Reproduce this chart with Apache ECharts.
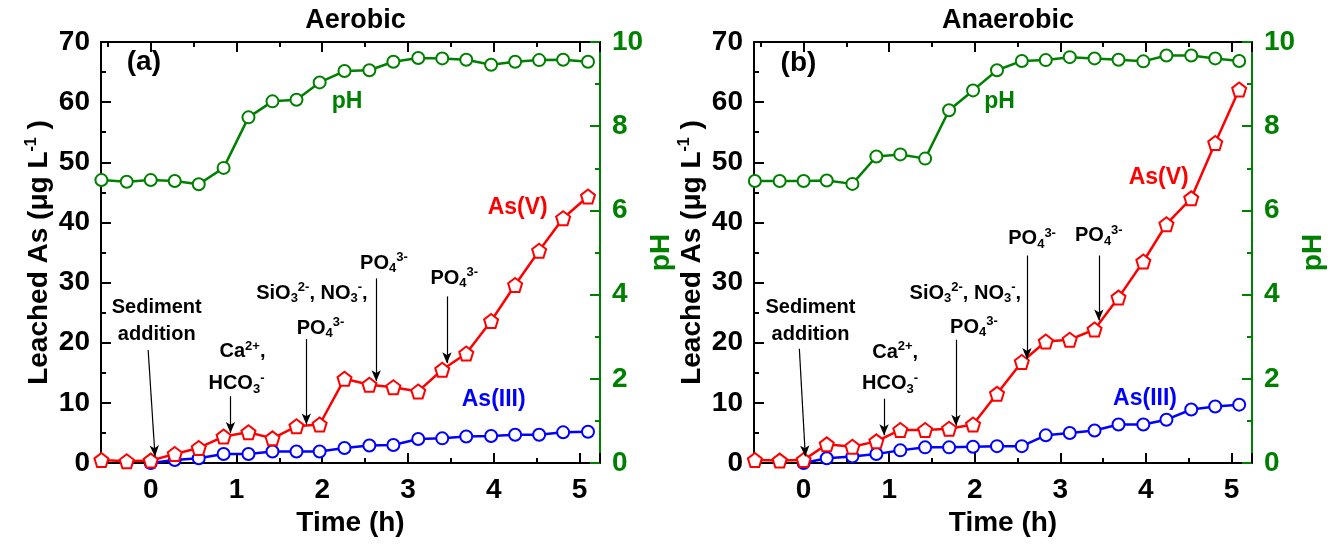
<!DOCTYPE html>
<html>
<head>
<meta charset="utf-8">
<script src="https://cdn.jsdelivr.net/npm/echarts@6/dist/echarts.min.js"></script>
<style>
  html, body { margin: 0; padding: 0; background: #fff; }
  #chart { width: 1333px; height: 544px; }
</style>
</head>
<body>
<div id="chart"></div>
<script>
// sampling times (h)
const timeA = [-0.575, -0.28, 0, 0.28, 0.56, 0.85, 1.14, 1.42, 1.70, 1.97, 2.26, 2.55, 2.83, 3.12, 3.40, 3.68, 3.97, 4.25, 4.53, 4.81, 5.10]
const timeB = [-0.57, -0.28, 0, 0.27, 0.57, 0.85, 1.13, 1.42, 1.70, 1.98, 2.26, 2.55, 2.83, 3.11, 3.40, 3.68, 3.97, 4.24, 4.53, 4.81, 5.09]

// (a) Aerobic
const asVA = [0.5, 0.3, 0.4, 1.5, 2.5, 4.4, 5.1, 4.1, 6.1, 6.4, 14.0, 13.0, 12.6, 11.9, 15.5, 18.2, 23.6, 29.6, 35.3, 40.7, 44.3]
const asIIIA = [0, 0.5, 0.8, 1.5, 1.5, 1.9, 1.9, 1.9, 2.5, 2.9, 3.0, 4.0, 4.1, 4.4, 4.5, 4.7, 4.7, 5.1, 5.2]   // from t = 0
const pHA = [6.72, 6.68, 6.72, 6.70, 6.62, 7.01, 8.21, 8.59, 8.63, 9.04, 9.31, 9.33, 9.53, 9.62, 9.61, 9.58, 9.46, 9.53, 9.57, 9.58, 9.53]

// (b) Anaerobic
const asVB = [0.5, 0.4, 0.5, 3.1, 2.7, 3.6, 5.5, 5.5, 5.7, 6.4, 11.5, 16.8, 20.2, 20.5, 22.2, 27.5, 33.5, 39.7, 44.0, 53.2, 62.1]
const asIIIB = [0, 0.8, 1.1, 1.5, 2.1, 2.6, 2.6, 2.7, 2.8, 2.8, 4.6, 5.0, 5.4, 6.4, 6.4, 7.2, 8.9, 9.4, 9.7]
const pHB = [6.70, 6.70, 6.70, 6.71, 6.63, 7.28, 7.33, 7.23, 8.38, 8.85, 9.33, 9.55, 9.57, 9.64, 9.61, 9.58, 9.54, 9.68, 9.68, 9.61, 9.55]

const titles = ['Aerobic', 'Anaerobic']

// annotation texts [t, As, text] and arrows [t1, As1, t2, As2]
const notesA = [
  [0.07, 25.8, 'Sediment'],
  [0.07, 21.3, 'addition'],
  [1.07, 18.5, 'Ca{sup|2+},'],
  [1.00, 13.2, 'HCO{sub|3}{sup|-}'],
  [1.88, 28.2, 'SiO{sub|3}{sup|2-}, NO{sub|3}{sup|-},'],
  [1.98, 22.4, 'PO{sub|4}{sup|3-}'],
  [2.72, 33.2, 'PO{sub|4}{sup|3-}'],
  [3.54, 30.7, 'PO{sub|4}{sup|3-}']
]
const arrowsA = [
  [-0.03, 18.8, 0.05, 1.1],
  [0.93, 11.1, 0.93, 5.0],
  [1.815, 20.6, 1.815, 6.4],
  [2.63, 30.7, 2.63, 13.6],
  [3.455, 27.7, 3.455, 16.6]
]
const notesB = [
  [0.08, 25.9, 'Sediment'],
  [0.08, 21.4, 'addition'],
  [1.07, 18.4, 'Ca{sup|2+},'],
  [1.01, 13.2, 'HCO{sub|3}{sup|-}'],
  [1.89, 28.2, 'SiO{sub|3}{sup|2-}, NO{sub|3}{sup|-},'],
  [1.99, 22.6, 'PO{sub|4}{sup|3-}'],
  [2.67, 37.3, 'PO{sub|4}{sup|3-}'],
  [3.45, 37.8, 'PO{sub|4}{sup|3-}']
]
const arrowsB = [
  [-0.05, 19.0, 0.02, 1.1],
  [0.94, 10.7, 0.94, 4.6],
  [1.78, 20.5, 1.78, 6.2],
  [2.61, 34.5, 2.61, 17.3],
  [3.45, 34.5, 3.45, 23.7]
]
// series tags: As(V), As(III), pH, panel letter
const tagsA = [[4.28, 42.4, 'As(V)'], [4.00, 10.5, 'As(III)'], [2.29, 60.1, 'pH'], [-0.08, 66.7, '(a)']]
const tagsB = [[4.15, 47.5, 'As(V)'], [3.99, 10.7, 'As(III)'], [2.29, 60.0, 'pH'], [-0.06, 66.4, '(b)']]

const FONT = 'Liberation Sans, Arial, sans-serif'
const RED = '#ff0000', BLUE = '#0000ff', GREEN = '#008000'
const tagColors = [RED, BLUE, GREEN, '#000']
const tagSizes = [23, 23, 23, 28]
const AXIS_FS = 28

const subSup = {
  sub: { fontSize: 13, fontWeight: 'bold', fontFamily: FONT, color: '#000', padding: [11, 0, 0, 0] },
  sup: { fontSize: 13, fontWeight: 'bold', fontFamily: FONT, color: '#000', padding: [0, 0, 11, 0] }
}

const pentagon = 'path://M0,-1L0.951,-0.309L0.588,0.809L-0.588,0.809L-0.951,-0.309Z'

const grids = [
  { left: 101, top: 42, width: 499, height: 421 },
  { left: 754, top: 42, width: 498, height: 421 }
]

const tickStyle = (color) => ({ color: color, width: 2 })
const labelStyle = (color) => ({ color: color, fontSize: AXIS_FS, fontWeight: 'bold', fontFamily: FONT })

const xAxes = []
const yAxes = []
const series = []

function addPanel (i, time, asV, asIII, pH, notes, arrows, tags) {
  const xBase = {
    type: 'value',
    gridIndex: i,
    min: -0.58,
    max: 5.24,
    splitLine: { show: false },
    axisLine: { show: true, onZero: false, lineStyle: tickStyle('#000') },
    axisTick: { inside: true, length: 10, lineStyle: tickStyle('#000') },
    minorTick: { show: true, splitNumber: 2, length: 5, lineStyle: tickStyle('#000') }
  }
  xAxes.push(Object.assign({}, xBase, {
    position: 'bottom',
    axisLabel: Object.assign(labelStyle('#000'), { margin: 13, showMinLabel: false, showMaxLabel: false }),
    name: 'Time (h)',
    nameLocation: 'middle',
    nameGap: 44,
    nameTextStyle: labelStyle('#000')
  }))
  xAxes.push(Object.assign({}, xBase, { position: 'top', axisLabel: { show: false } }))

  yAxes.push({
    type: 'value',
    gridIndex: i,
    position: 'left',
    min: 0,
    max: 70,
    interval: 10,
    splitLine: { show: false },
    axisLine: { show: true, onZero: false, lineStyle: tickStyle('#000') },
    axisTick: { inside: true, length: 10, lineStyle: tickStyle('#000') },
    minorTick: { show: true, splitNumber: 2, length: 5, lineStyle: tickStyle('#000') },
    axisLabel: Object.assign(labelStyle('#000'), { margin: 11 }),
    name: '{a|Leached As (μg L}{s|-1}{a| )}',
    nameLocation: 'middle',
    nameGap: 47,
    nameTextStyle: {
      rich: {
        a: labelStyle('#000'),
        s: { fontSize: 16, fontWeight: 'bold', fontFamily: FONT, color: '#000', padding: [0, 0, 14, 0] }
      }
    }
  })
  yAxes.push({
    type: 'value',
    gridIndex: i,
    position: 'right',
    min: 0,
    max: 10,
    interval: 2,
    splitLine: { show: false },
    axisLine: { show: true, onZero: false, lineStyle: tickStyle(GREEN) },
    axisTick: { inside: true, length: 10, lineStyle: tickStyle(GREEN) },
    minorTick: { show: true, splitNumber: 2, length: 5, lineStyle: tickStyle(GREEN) },
    axisLabel: Object.assign(labelStyle(GREEN), { margin: 12 }),
    name: 'pH',
    nameLocation: 'middle',
    nameGap: 40,
    nameTextStyle: labelStyle(GREEN)
  })

  const xi = 2 * i
  series.push({
    name: 'pH',
    type: 'line',
    xAxisIndex: xi,
    yAxisIndex: 2 * i + 1,
    data: time.map((t, k) => [t, pH[k]]),
    symbol: 'circle',
    symbolSize: 12,
    showAllSymbol: true,
    lineStyle: { color: GREEN, width: 2.5 },
    itemStyle: { color: '#fff', borderColor: GREEN, borderWidth: 2 },
    z: 2
  })
  series.push({
    name: 'As(III)',
    type: 'line',
    xAxisIndex: xi,
    yAxisIndex: 2 * i,
    data: time.slice(2).map((t, k) => [t, asIII[k]]),
    symbol: 'circle',
    symbolSize: 12,
    showAllSymbol: true,
    lineStyle: { color: BLUE, width: 2.5 },
    itemStyle: { color: '#fff', borderColor: BLUE, borderWidth: 2 },
    z: 3
  })
  series.push({
    name: 'As(V)',
    type: 'line',
    xAxisIndex: xi,
    yAxisIndex: 2 * i,
    data: time.map((t, k) => [t, asV[k]]),
    symbol: pentagon,
    symbolSize: 14,
    showAllSymbol: true,
    lineStyle: { color: RED, width: 2.5 },
    itemStyle: { color: '#fff', borderColor: RED, borderWidth: 2 },
    z: 4
  })

  // text annotations + arrows
  const noteData = notes.map(n => ({
    value: [n[0], n[1]],
    label: { formatter: n[2] }
  })).concat(tags.map((g, k) => ({
    value: [g[0], g[1]],
    label: { formatter: g[2], color: tagColors[k], fontSize: tagSizes[k] }
  })))
  series.push({
    type: 'scatter',
    xAxisIndex: xi,
    yAxisIndex: 2 * i,
    data: noteData,
    symbolSize: 0,
    silent: true,
    z: 5,
    itemStyle: { opacity: 1 },
    label: {
      show: true,
      position: 'inside',
      color: '#000',
      fontSize: 20,
      fontWeight: 'bold',
      fontFamily: FONT,
      rich: subSup
    },
    markLine: {
      silent: true,
      symbol: ['none', 'arrow'],
      symbolSize: [7, 11],
      label: { show: false },
      lineStyle: { color: '#000', width: 1.2, type: 'solid', opacity: 1 },
      data: arrows.map(a => [{ coord: [a[0], a[1]] }, { coord: [a[2], a[3]] }])
    }
  })
}

addPanel(0, timeA, asVA, asIIIA, pHA, notesA, arrowsA, tagsA)
addPanel(1, timeB, asVB, asIIIB, pHB, notesB, arrowsB, tagsB)

const chart = echarts.init(document.getElementById('chart'))
chart.setOption({
  animation: false,
  backgroundColor: '#fff',
  title: titles.map((t, i) => ({
    text: t,
    left: grids[i].left + grids[i].width / 2,
    top: 2,
    textAlign: 'center',
    textStyle: { color: '#000', fontSize: 27, fontWeight: 'bold', fontFamily: FONT }
  })),
  grid: grids,
  xAxis: xAxes,
  yAxis: yAxes,
  series: series
})
</script>
</body>
</html>
